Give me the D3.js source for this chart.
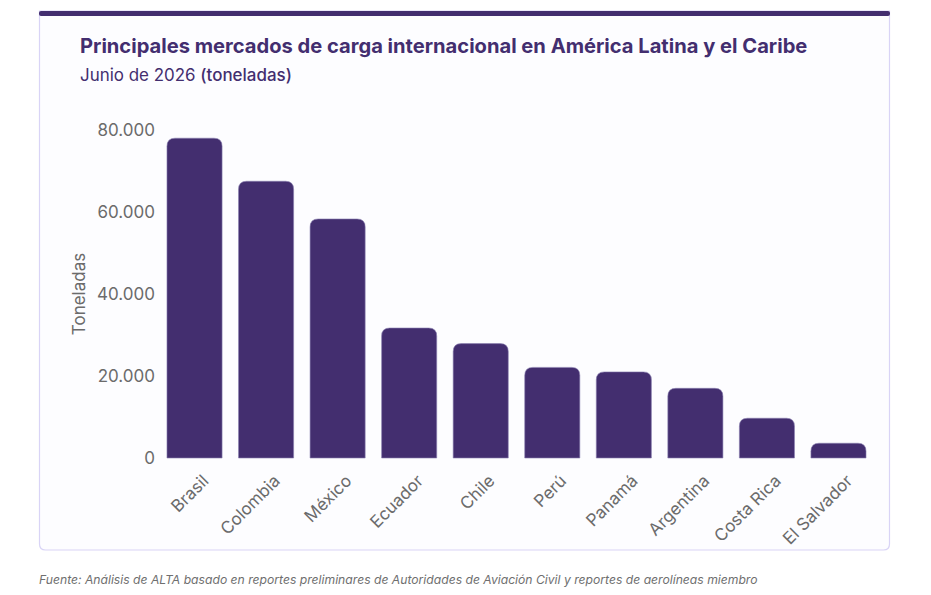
<!DOCTYPE html>
<html>
<head>
<meta charset="utf-8">
<script src="https://cdn.jsdelivr.net/npm/d3@7"></script>
<style>
html,body{margin:0;padding:0;background:#ffffff;}
svg{display:block;}
</style>
</head>
<body>
<svg id="chart" width="931" height="595"></svg>
<script>
const categories = ["Brasil","Colombia","México","Ecuador","Chile","Perú","Panamá","Argentina","Costa Rica","El Salvador"];
const values = [78000, 67500, 58300, 31700, 27900, 22100, 21000, 17000, 9700, 3600];
const yTicks = [0, 20000, 40000, 60000, 80000];
const titleText = "Principales mercados de carga internacional en América Latina y el Caribe";
const subtitleMain = "Junio de 2026 ";
const subtitleUnit = "(toneladas)";
const yAxisTitle = "Toneladas";
const sourceText = "Fuente: Análisis de ALTA basado en reportes preliminares de Autoridades de Aviación Civil y reportes de aerolíneas miembro";

const W = 931, H = 595;
const svg = d3.select("#chart");
const font = "Inter, 'Open Sans', 'DejaVu Sans', sans-serif";
const purple = "#432e6f";
const gray = "#6b6b6b";

// card
const card = {x:39.5, y:11, w:850, h:539};
const cardPath = d3.path();
const r = 6;
cardPath.moveTo(card.x, card.y);
cardPath.lineTo(card.x + card.w, card.y);
cardPath.lineTo(card.x + card.w, card.y + card.h - r);
cardPath.quadraticCurveTo(card.x + card.w, card.y + card.h, card.x + card.w - r, card.y + card.h);
cardPath.lineTo(card.x + r, card.y + card.h);
cardPath.quadraticCurveTo(card.x, card.y + card.h, card.x, card.y + card.h - r);
cardPath.closePath();
svg.append("path").attr("d", cardPath.toString())
  .attr("fill", "#fdfdff").attr("stroke", "#d9d4f6").attr("stroke-width", 1.2);
svg.append("rect").attr("x", card.x - 0.5).attr("y", 11).attr("width", card.w + 1).attr("height", 5)
  .attr("rx", 2).attr("fill", purple);

// title
function fitText(sel, target) {
  const len = sel.node().getComputedTextLength();
  const fs = parseFloat(sel.attr("font-size"));
  sel.attr("font-size", (fs * target / len).toFixed(2));
}
const title = svg.append("text").attr("x", 80).attr("y", 53)
  .attr("font-family", font).attr("font-weight", 700).attr("font-size", 17)
  .attr("fill", purple).text(titleText);
fitText(title, 728);

const sub = svg.append("text").attr("x", 80).attr("y", 81)
  .attr("font-family", font).attr("font-size", 15).attr("fill", purple);
sub.append("tspan").attr("font-weight", 400).text(subtitleMain);
sub.append("tspan").attr("font-weight", 500).text(subtitleUnit);
fitText(sub, 212);

// scales
const x = d3.scaleBand().domain(categories).range([158.75, 874.25]).paddingInner(0.23).paddingOuter(0.115);
const y = d3.scaleLinear().domain([0, 80000]).range([458, 130]);

const fmt = v => d3.format(",")(v).replace(/,/g, ".");

// y axis
const yAxis = d3.axisLeft(y).tickValues(yTicks).tickFormat(fmt).tickSize(0).tickPadding(0);
const yg = svg.append("g").attr("transform", "translate(155,0)").call(yAxis);
yg.select(".domain").remove();
yg.selectAll("text").attr("font-family", font).attr("font-size", 17).attr("fill", gray);

svg.append("text").attr("transform", "translate(85,294) rotate(-90)")
  .attr("text-anchor", "middle").attr("font-family", font).attr("font-size", 17)
  .attr("fill", gray).text(yAxisTitle);

// bars with rounded top
const rad = 8;
function barPath(d, i) {
  const x0 = x(categories[i]), w = x.bandwidth();
  const y0 = y(d), yb = y(0);
  const rr = Math.min(rad, (yb - y0));
  const p = d3.path();
  p.moveTo(x0, yb);
  p.lineTo(x0, y0 + rr);
  p.quadraticCurveTo(x0, y0, x0 + rr, y0);
  p.lineTo(x0 + w - rr, y0);
  p.quadraticCurveTo(x0 + w, y0, x0 + w, y0 + rr);
  p.lineTo(x0 + w, yb);
  p.closePath();
  return p.toString();
}
svg.append("g").selectAll("path").data(values).join("path")
  .attr("d", barPath).attr("fill", purple)
  .attr("stroke", "#8a7fb0").attr("stroke-width", 0.6);

// x axis
const xAxis = d3.axisBottom(x).tickSize(0).tickPadding(0);
const xg = svg.append("g").attr("transform", "translate(0,458)").call(xAxis);
xg.select(".domain").remove();
xg.selectAll("text")
  .attr("font-family", font).attr("font-size", 17).attr("fill", gray)
  .attr("text-anchor", "end").attr("dy", null)
  .attr("transform", "translate(6,15) rotate(-45)")
  .attr("y", 0).attr("x", 0).attr("dominant-baseline", "hanging");

// source
const src = svg.append("text").attr("x", 39).attr("y", 584)
  .attr("font-family", font).attr("font-style", "italic").attr("font-size", 12)
  .attr("fill", "#6f6f6f").text(sourceText);
fitText(src, 719);
</script>
</body>
</html>
